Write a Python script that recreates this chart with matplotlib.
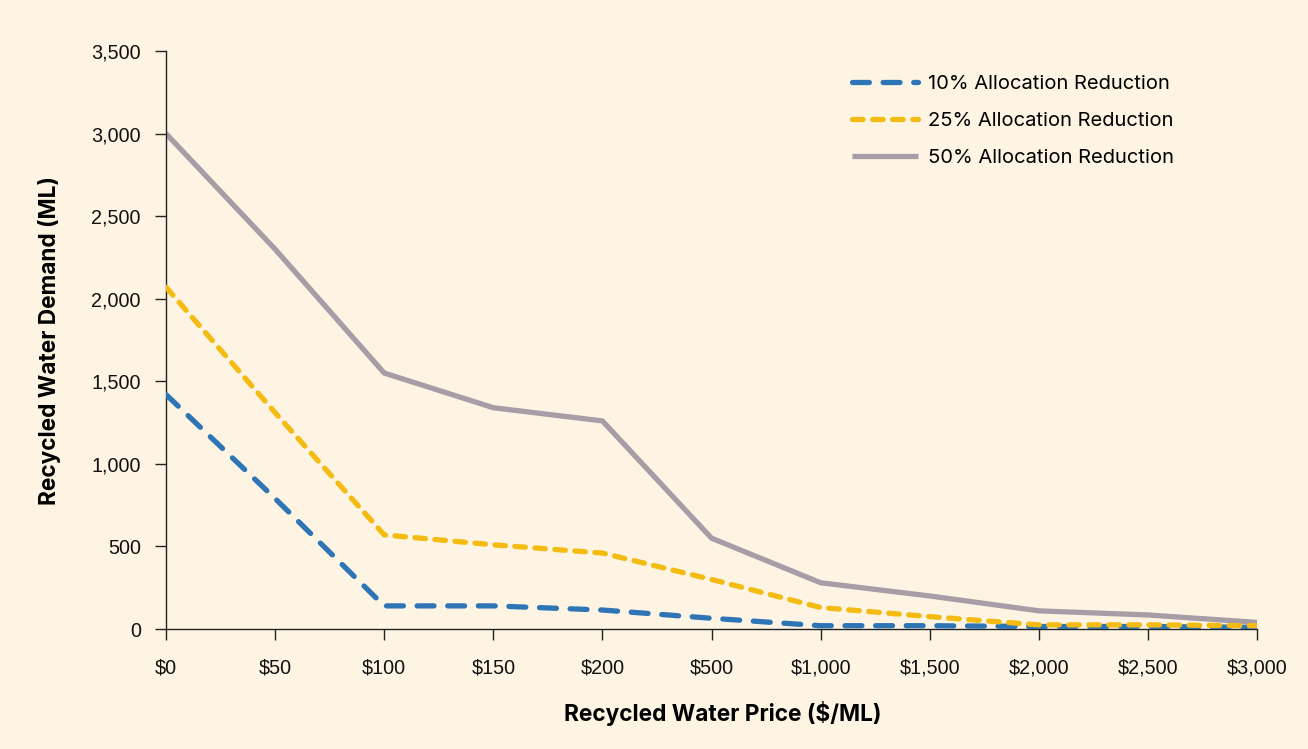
import matplotlib.pyplot as plt

# data
prices = ['$0', '$50', '$100', '$150', '$200', '$500', '$1,000', '$1,500', '$2,000', '$2,500', '$3,000']
demand_10 = [1420, 790, 140, 140, 115, 65, 20, 20, 15, 15, 10]
demand_25 = [2070, 1310, 570, 510, 460, 300, 130, 75, 25, 25, 20]
demand_50 = [3000, 2300, 1550, 1340, 1260, 550, 280, 200, 110, 85, 40]
y_ticks = [0, 500, 1000, 1500, 2000, 2500, 3000, 3500]

bg = '#FDF4E3'
plt.rcParams['font.family'] = ['Inter', 'DejaVu Sans']

fig = plt.figure(figsize=(13.08, 7.49), dpi=100, facecolor=bg)
ax = fig.add_axes([0.1269, 0.1602, 0.8342, 0.7717], facecolor=bg)

x = list(range(len(prices)))
ax.plot(x, demand_10, color='#2E75B6', lw=3.8, dashes=(3.2, 2.6), dash_capstyle='round',
        label='10% Allocation Reduction', zorder=3)
ax.plot(x, demand_25, color='#F4BC13', lw=3.8, dashes=(2.0, 1.8), dash_capstyle='round',
        label='25% Allocation Reduction', zorder=3)
ax.plot(x, demand_50, color='#A89CA6', lw=3.8, solid_capstyle='butt',
        label='50% Allocation Reduction', zorder=2)

ax.set_xlim(0, len(prices) - 1)
ax.set_ylim(0, 3500)
ax.set_xticks(x)
ax.set_xticklabels(prices)
ax.set_yticks(y_ticks)
ax.set_yticklabels([f'{v:,}' for v in y_ticks])
for lbl in ax.get_xticklabels() + ax.get_yticklabels():
    lbl.set_family(['Liberation Sans', 'DejaVu Sans'])

for s in ['top', 'right']:
    ax.spines[s].set_visible(False)
for s in ['left', 'bottom']:
    ax.spines[s].set_color('#222222')
    ax.spines[s].set_linewidth(1.0)
ax.tick_params(axis='both', colors='#222222', labelcolor='#111111', labelsize=14.2,
               length=8, width=1.0, direction='out')
ax.tick_params(axis='x', pad=13)
ax.tick_params(axis='y', pad=10)

ax.set_xlabel('Recycled Water Price ($/ML)', fontsize=16.3, fontweight='bold', labelpad=18)
ax.xaxis.set_label_coords(0.5105, -0.125)
ax.set_ylabel('Recycled Water Demand (ML)', fontsize=16.3, fontweight='bold', labelpad=22)

ax.legend(loc='upper right', bbox_to_anchor=(0.94, 0.99), frameon=False, fontsize=14.5,
          handlelength=3.3, handletextpad=0.45, labelspacing=0.95)

fig.savefig('out.png', dpi=100, facecolor=bg)
